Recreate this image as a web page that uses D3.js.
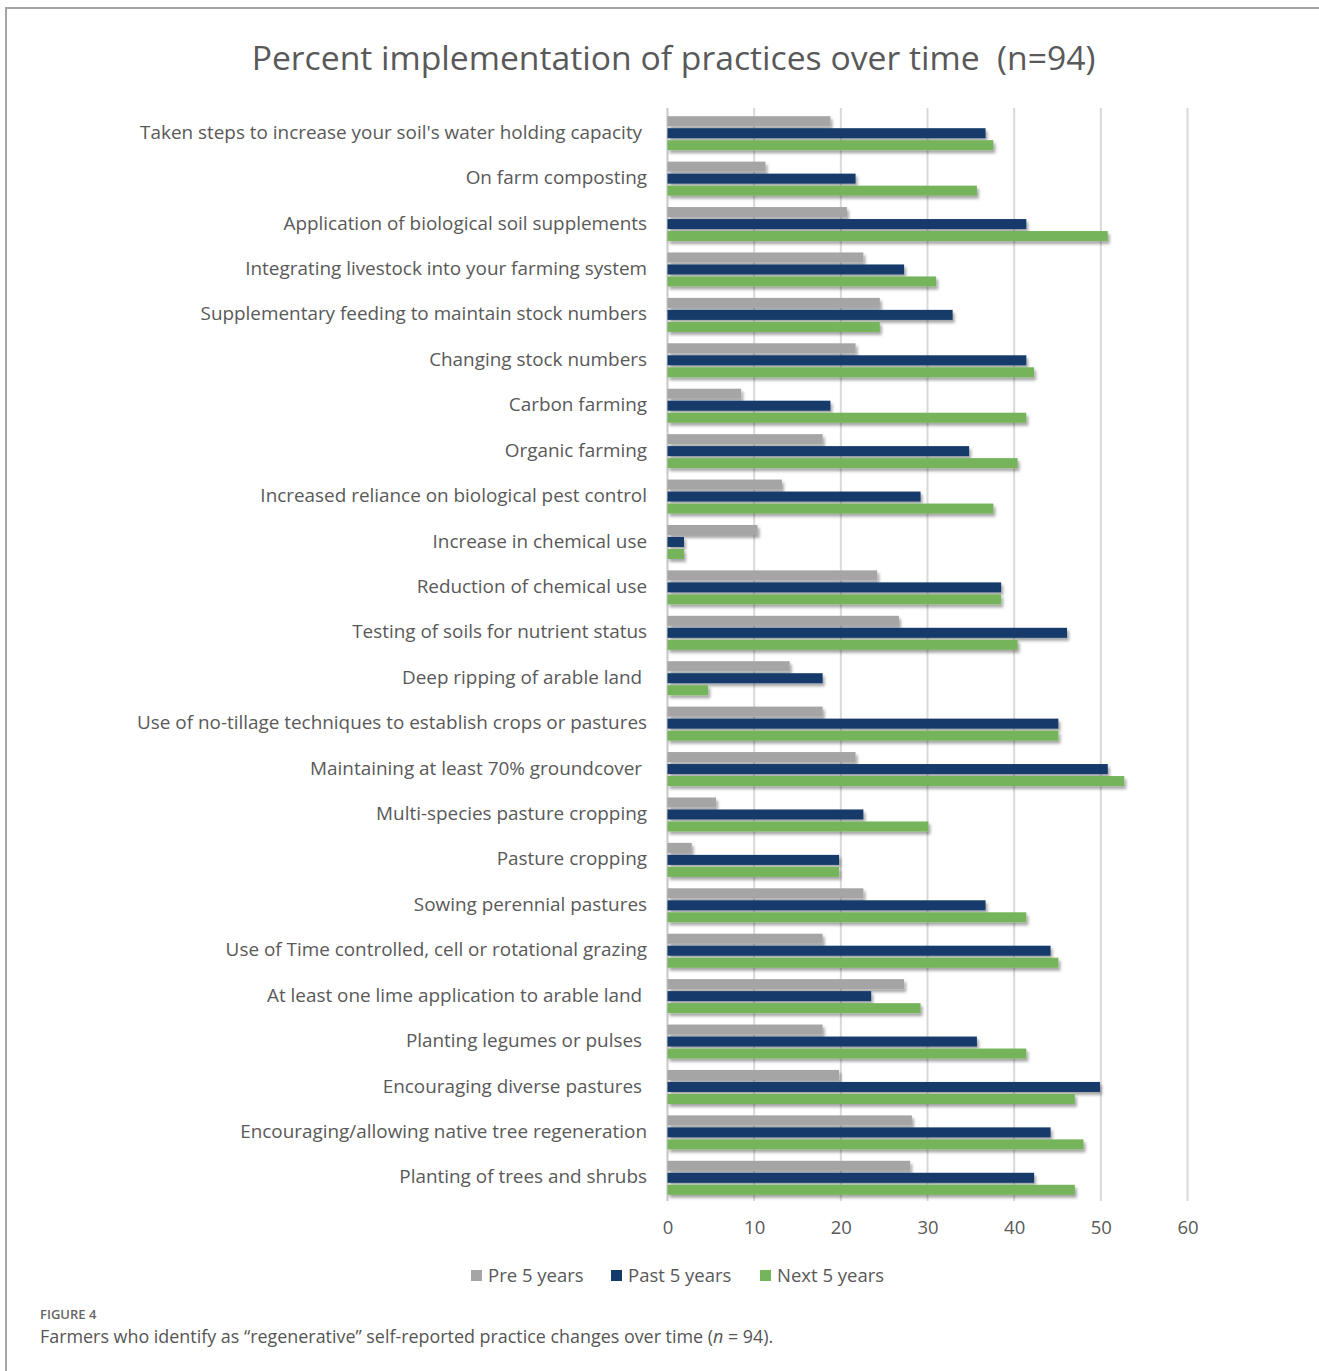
<!DOCTYPE html>
<html>
<head>
<meta charset="utf-8">
<script src="https://cdn.jsdelivr.net/npm/d3@7"></script>
<style>
  body { margin: 0; background: #fff; }
  svg text { font-family: "Open Sans", sans-serif; }
</style>
</head>
<body>
<div id="chart"></div>
<script>
// categories, top to bottom (trailing spaces kept as in the source chart)
var categories = [
    "Taken steps to increase your soil's water holding capacity\u00a0",
    "On farm composting",
    "Application of biological soil supplements",
    "Integrating livestock into your farming system",
    "Supplementary feeding to maintain stock numbers",
    "Changing stock numbers",
    "Carbon farming",
    "Organic farming",
    "Increased reliance on biological pest control",
    "Increase in chemical use",
    "Reduction of chemical use",
    "Testing of soils for nutrient status",
    "Deep ripping of arable land\u00a0",
    "Use of no-tillage techniques to establish crops or pastures",
    "Maintaining at least 70% groundcover\u00a0",
    "Multi-species pasture cropping",
    "Pasture cropping",
    "Sowing perennial pastures",
    "Use of Time controlled, cell or rotational grazing",
    "At least one lime application to arable land\u00a0",
    "Planting legumes or pulses\u00a0",
    "Encouraging diverse pastures\u00a0",
    "Encouraging/allowing native tree regeneration",
    "Planting of trees and shrubs"
];

var series = ["Pre 5 years", "Past 5 years", "Next 5 years"];

var pre5 = [18.8, 11.3, 20.7, 22.6, 24.5, 21.7, 8.5, 17.9, 13.2, 10.4, 24.2, 26.7,
            14.1, 17.9, 21.7, 5.6, 2.8, 22.6, 17.9, 27.3, 17.9, 19.8, 28.2, 28.0];
var past5 = [36.7, 21.7, 41.4, 27.3, 32.9, 41.4, 18.8, 34.8, 29.2, 1.9, 38.5, 46.1,
             17.9, 45.1, 50.8, 22.6, 19.8, 36.7, 44.2, 23.5, 35.7, 49.9, 44.2, 42.3];
var next5 = [37.6, 35.7, 50.8, 31.0, 24.5, 42.3, 41.4, 40.4, 37.6, 1.9, 38.5, 40.4,
             4.7, 45.1, 52.7, 30.1, 19.8, 41.4, 45.1, 29.2, 41.4, 47.0, 48.0, 47.0];

var xTicks = [0, 10, 20, 30, 40, 50, 60];

var colors = ["#a5a5a5", "#133a6a", "#74b45a"];

var W = 1319, H = 1371;
var textColor = "#595959";

var svg = d3.select("#chart").append("svg")
    .attr("width", W)
    .attr("height", H);

// drop shadow for bars
var defs = svg.append("defs");
var f = defs.append("filter")
    .attr("id", "shadow")
    .attr("x", "-5%").attr("y", "-50%")
    .attr("width", "115%").attr("height", "250%");
f.append("feDropShadow")
    .attr("dx", 2).attr("dy", 3)
    .attr("stdDeviation", 1.8)
    .attr("flood-color", "#000")
    .attr("flood-opacity", 0.35);

// frame
svg.append("path")
    .attr("d", "M6,1371 V8 H1319")
    .attr("fill", "none")
    .attr("stroke", "#a6a6a6")
    .attr("stroke-width", 2);

// title
svg.append("text")
    .attr("x", 673.5)
    .attr("y", 70)
    .attr("text-anchor", "middle")
    .attr("fill", textColor)
    .style("font-size", "33.7px")
    .style("white-space", "pre")
    .text("Percent implementation of practices over time  (n=94)");

// scales
var x = d3.scaleLinear()
    .domain([0, 60])
    .range([667.5, 1187.5]);

var y = d3.scaleBand()
    .domain(categories)
    .range([110.5, 1200.5]);

var inner = d3.scaleBand()
    .domain(series)
    .range([0, 36])
    .paddingInner(1 / 6)
    .paddingOuter(1 / 12);

// gridlines
svg.append("g")
    .selectAll("line")
    .data(xTicks)
    .enter().append("line")
    .attr("x1", function(d) { return x(d); })
    .attr("x2", function(d) { return x(d); })
    .attr("y1", 108)
    .attr("y2", 1201)
    .attr("stroke", function(d) { return d === 0 ? "#c8c8c8" : "#d9d9d9"; })
    .attr("stroke-width", 2);

// bars
var data = [pre5, past5, next5];
var groups = svg.append("g").attr("filter", "url(#shadow)");

series.forEach(function(s, si) {
    groups.selectAll(".bar-" + si)
        .data(data[si])
        .enter().append("rect")
        .attr("class", "bar-" + si)
        .attr("x", x(0))
        .attr("y", function(d, i) { return y(categories[i]) + y.bandwidth() / 2 - 18 + inner(s); })
        .attr("width", function(d) { return x(d) - x(0); })
        .attr("height", inner.bandwidth())
        .attr("fill", colors[si]);
});

// category labels
svg.append("g")
    .selectAll("text")
    .data(categories)
    .enter().append("text")
    .attr("x", 647)
    .attr("y", function(d) { return y(d) + y.bandwidth() / 2 - 1; })
    .attr("dy", "0.35em")
    .attr("text-anchor", "end")
    .attr("fill", textColor)
    .style("font-size", "18.9px")
    .text(function(d) { return d; });

// x axis labels
var xAxis = svg.append("g")
    .attr("transform", "translate(0,1221)")
    .call(d3.axisBottom(x).tickValues(xTicks).tickSize(0).tickPadding(0));
xAxis.select(".domain").remove();
xAxis.selectAll("text")
    .attr("fill", textColor)
    .style("font-size", "18.5px")
    .style("font-family", "'Open Sans', sans-serif");

// legend
var legendX = [471, 611, 760];
var legend = svg.append("g");
series.forEach(function(s, i) {
    legend.append("rect")
        .attr("x", legendX[i])
        .attr("y", 1270)
        .attr("width", 11)
        .attr("height", 11)
        .attr("fill", colors[i]);
    legend.append("text")
        .attr("x", legendX[i] + 17)
        .attr("y", 1276)
        .attr("dy", "0.35em")
        .attr("fill", textColor)
        .style("font-size", "18.5px")
        .text(s);
});

// caption
svg.append("text")
    .attr("x", 40)
    .attr("y", 1319)
    .attr("fill", "#666")
    .style("font-size", "13px")
    .style("font-weight", 600)
    .text("FIGURE 4");

var cap = svg.append("text")
    .attr("x", 40)
    .attr("y", 1343)
    .attr("fill", "#555")
    .style("font-size", "17.9px");
cap.append("tspan").text("Farmers who identify as \u201cregenerative\u201d self-reported practice changes over time (");
cap.append("tspan").style("font-style", "italic").text("n");
cap.append("tspan").text(" = 94).");
</script>
</body>
</html>
